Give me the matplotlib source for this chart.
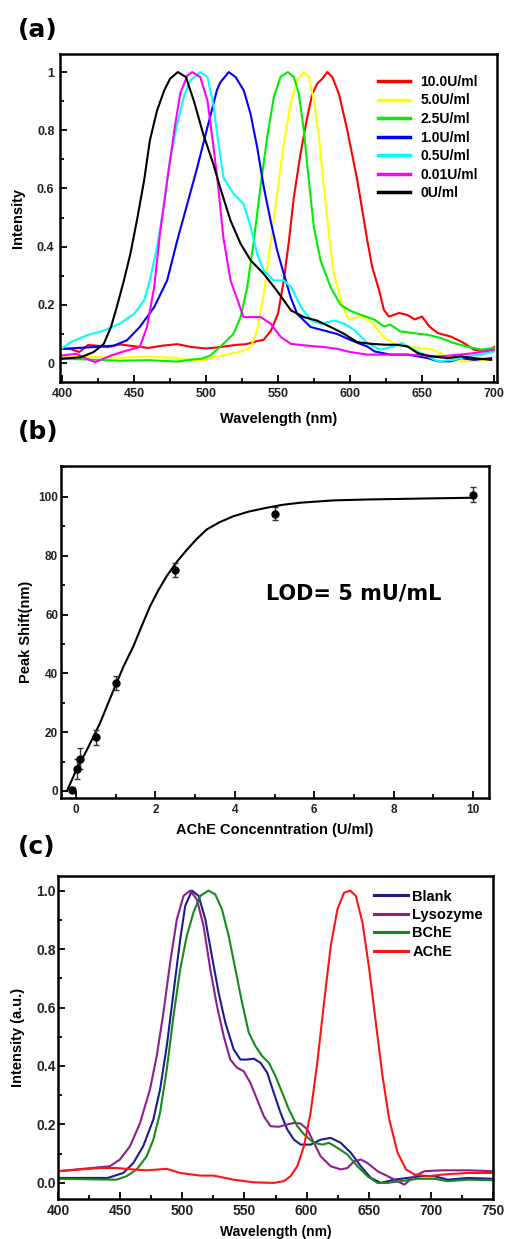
import matplotlib
matplotlib.use("Agg")
import matplotlib.pyplot as plt
from matplotlib.ticker import MultipleLocator, FixedLocator, FuncFormatter

# ---------------- panel (a) spectra ----------------
wl_10 = [400, 406, 412, 418, 424, 432, 440, 450, 460, 470, 480, 490, 500, 510, 520, 528, 535, 540, 545, 550,
         554, 557.6, 561, 565.6, 570.3, 573.8, 577.2, 580.7, 584.2, 587.7, 592.3, 598.1, 605.1, 612, 615.4,
         620.1, 623.5, 627, 634, 640, 645, 650, 655, 661, 670, 679, 686, 695, 700]
int_10 = [0.05, 0.048, 0.038, 0.062, 0.06, 0.055, 0.064, 0.058, 0.052, 0.06, 0.065, 0.055, 0.05, 0.055, 0.062,
          0.065, 0.075, 0.08, 0.11, 0.17, 0.284, 0.421, 0.57, 0.719, 0.845, 0.925, 0.96, 0.977, 1.0, 0.983,
          0.925, 0.80, 0.627, 0.421, 0.33, 0.252, 0.183, 0.16, 0.172, 0.165, 0.15, 0.16, 0.126, 0.103, 0.091,
          0.069, 0.046, 0.04, 0.055]

wl_5 = [400, 420, 440, 460, 480, 490, 497, 505, 515, 525, 531, 535.5, 540.1, 544.8, 549.4, 554, 558.7, 563.3,
        567.9, 571.4, 574.9, 578.4, 581.8, 585.3, 588.8, 593.4, 597, 599, 603, 608, 616, 623, 630, 640, 649,
        658, 667, 677, 686, 698]
int_5 = [0.02, 0.022, 0.018, 0.022, 0.018, 0.01, 0.008, 0.02, 0.03, 0.04, 0.055, 0.112, 0.238, 0.41, 0.582,
         0.754, 0.891, 0.971, 1.0, 0.983, 0.902, 0.777, 0.605, 0.444, 0.307, 0.22, 0.17, 0.15, 0.155, 0.16,
         0.137, 0.091, 0.069, 0.057, 0.052, 0.046, 0.023, 0.006, 0.006, 0.011]

wl_25 = [400, 420, 440, 460, 480, 490, 497, 503, 512, 519, 524, 528.6, 533.2, 537.8, 542.5, 547.1, 551.7,
         556.8, 561, 564.5, 567.9, 571.4, 574.9, 579.5, 586.5, 593.4, 600, 605, 612, 617, 623.5, 628, 635,
         644, 654, 663, 672, 681, 691, 700]
int_25 = [0.015, 0.012, 0.008, 0.01, 0.005, 0.012, 0.015, 0.026, 0.066, 0.1, 0.158, 0.261, 0.421, 0.605,
          0.777, 0.914, 0.983, 1.0, 0.983, 0.925, 0.80, 0.627, 0.467, 0.353, 0.261, 0.20, 0.18, 0.17, 0.158,
          0.149, 0.126, 0.132, 0.109, 0.103, 0.097, 0.086, 0.069, 0.057, 0.046, 0.052]

wl_1 = [400, 422, 436, 445, 454, 464, 473, 480, 487, 494, 501, 507.7, 510, 515.8, 520.5, 526.2, 530.9,
        535.5, 540.1, 544.8, 549.4, 554, 558.7, 563.3, 572.6, 581.8, 591, 600, 607, 612, 617, 628, 640, 654,
        661, 670, 677, 686, 698]
int_1 = [0.049, 0.055, 0.06, 0.078, 0.124, 0.192, 0.284, 0.421, 0.547, 0.674, 0.811, 0.94, 0.965, 1.0,
         0.983, 0.937, 0.857, 0.742, 0.605, 0.49, 0.387, 0.307, 0.227, 0.169, 0.124, 0.112, 0.1, 0.08, 0.066,
         0.057, 0.04, 0.029, 0.029, 0.017, 0.006, 0.006, 0.017, 0.011, 0.017]

wl_05 = [400, 406, 417, 429, 440, 450, 457, 461, 466, 471, 475, 480, 484.5, 489, 496, 501, 505, 508, 512,
         519, 526, 531, 535.5, 540, 547, 554, 559, 566, 573, 580, 589, 596, 603, 612, 621, 630, 636, 644, 654,
         661, 672, 681, 691, 700]
int_05 = [0.05, 0.072, 0.095, 0.112, 0.135, 0.169, 0.215, 0.284, 0.399, 0.547, 0.696, 0.822, 0.914, 0.971,
          1.0, 0.983, 0.89, 0.777, 0.639, 0.582, 0.547, 0.467, 0.376, 0.318, 0.284, 0.284, 0.261, 0.192,
          0.146, 0.135, 0.146, 0.135, 0.114, 0.069, 0.046, 0.057, 0.069, 0.046, 0.023, 0.006, 0.011, 0.023,
          0.029, 0.04]

wl_001 = [400, 410, 417, 423, 434, 445, 454, 459, 464, 468, 473, 478, 482, 487, 490.4, 496, 501, 505, 508,
          512, 517, 522, 526, 538, 545, 552, 559, 570, 582, 591, 600, 612, 625, 640, 663, 686, 700]
int_001 = [0.026, 0.032, 0.015, 0.003, 0.026, 0.043, 0.055, 0.124, 0.261, 0.444, 0.627, 0.80, 0.925, 0.988,
           1.0, 0.983, 0.902, 0.75, 0.627, 0.433, 0.284, 0.215, 0.158, 0.158, 0.135, 0.089, 0.066, 0.06,
           0.055, 0.049, 0.038, 0.029, 0.029, 0.029, 0.023, 0.034, 0.046]

wl_0 = [400, 413, 422, 429, 434, 438, 443, 447.5, 452, 457, 461, 466, 471, 475, 480.4, 486, 491.5, 498, 505,
        510, 517, 524, 531, 540, 549, 559, 568, 577, 586.5, 596, 605, 615, 625, 632, 640, 647, 656, 668, 677,
        686, 698]
int_0 = [0.015, 0.02, 0.038, 0.066, 0.124, 0.192, 0.284, 0.376, 0.49, 0.627, 0.765, 0.868, 0.937, 0.977, 1.0,
         0.983, 0.902, 0.788, 0.685, 0.60, 0.49, 0.41, 0.353, 0.307, 0.25, 0.181, 0.158, 0.146, 0.124, 0.1,
         0.072, 0.066, 0.063, 0.063, 0.057, 0.034, 0.023, 0.017, 0.023, 0.017, 0.011]

a_labels = ["10.0U/ml", "5.0U/ml", "2.5U/ml", "1.0U/ml", "0.5U/ml", "0.01U/ml", "0U/ml"]
a_colors = ["#ff0000", "#ffff00", "#00ee00", "#0000ff", "#00ffff", "#ff00ff", "#000000"]
a_series = [(wl_10, int_10), (wl_5, int_5), (wl_25, int_25), (wl_1, int_1),
            (wl_05, int_05), (wl_001, int_001), (wl_0, int_0)]

# ---------------- panel (b) peak shift ----------------
conc = [-0.1, 0.02, 0.1, 0.5, 1.0, 2.5, 5.0, 10.0]
shift = [0.5, 7.6, 11.0, 18.2, 36.8, 75.2, 94.3, 100.8]
shift_err = [0.8, 3.4, 3.6, 2.5, 2.3, 2.4, 2.3, 2.4]
fit_x = [-0.23, 0.0, 0.27, 0.6, 0.98, 1.2, 1.44, 1.65, 1.86, 2.07, 2.28, 2.53, 2.79, 3.04, 3.29, 3.6, 3.96,
         4.35, 4.8, 5.2, 5.64, 6.48, 7.3, 8.15, 9.0, 10.0]
fit_y = [0.0, 7.0, 13.9, 23.0, 35.5, 42.5, 49.1, 56.0, 62.7, 68.2, 73.0, 77.8, 82.0, 85.7, 88.9, 91.3, 93.4,
         95.0, 96.3, 97.3, 98.0, 98.8, 99.1, 99.3, 99.5, 99.7]

# ---------------- panel (c) selectivity ----------------
wl_blank = [400, 440, 452.5, 460.6, 468.6, 476.7, 482.1, 487.5, 492.9, 498.3, 502.3, 507.7, 513.1, 518.5,
            523.8, 529.2, 534.6, 541.3, 546.7, 552.1, 557.5, 562.9, 568.3, 573.6, 579, 584.4, 589.8, 595.2,
            603.2, 611.3, 619.4, 627.5, 635.6, 643.6, 651.7, 659.8, 670.5, 681.3, 692.1, 702.8, 713.6, 729.8,
            750]
int_blank = [0.017, 0.017, 0.034, 0.068, 0.126, 0.217, 0.32, 0.468, 0.651, 0.833, 0.947, 1.0, 0.982, 0.902,
             0.776, 0.651, 0.548, 0.457, 0.422, 0.422, 0.425, 0.411, 0.377, 0.308, 0.24, 0.183, 0.148, 0.131,
             0.131, 0.148, 0.154, 0.137, 0.103, 0.057, 0.017, 0.0, 0.011, 0.017, 0.023, 0.023, 0.011, 0.017,
             0.014]

wl_lys = [400, 441.7, 449.8, 458, 466, 474, 479.4, 484.8, 490.2, 495.6, 501, 506.3, 511.7, 517.1, 522.5,
          527.9, 533.3, 538.6, 544, 549.4, 554.8, 560.2, 565.6, 571, 577.7, 584.4, 589.8, 595.2, 600.6, 605.9,
          611.3, 619.4, 627.5, 632.9, 638.2, 643.6, 649, 657.1, 665.2, 673.2, 678.6, 686.7, 694.8, 708.2,
          729.8, 750]
int_lys = [0.04, 0.057, 0.08, 0.126, 0.205, 0.32, 0.434, 0.582, 0.753, 0.902, 0.982, 1.0, 0.97, 0.879, 0.731,
           0.605, 0.502, 0.422, 0.394, 0.382, 0.342, 0.285, 0.228, 0.194, 0.192, 0.2, 0.205, 0.203, 0.183,
           0.137, 0.091, 0.057, 0.046, 0.051, 0.074, 0.08, 0.068, 0.04, 0.023, 0.006, -0.006, 0.023, 0.04,
           0.043, 0.043, 0.04]

wl_bche = [400, 447, 455.2, 463.3, 471.3, 476.7, 482.1, 487.5, 492.9, 498.3, 503.6, 509, 514.4, 521.1, 526.5,
           531.9, 537.3, 542.7, 548.1, 553.5, 558.8, 564.2, 569.6, 575, 580.4, 585.8, 592.5, 597.9, 605.9,
           612.7, 618, 624.8, 632.9, 640.9, 648.9, 657, 665.2, 675.9, 689.4, 702.8, 713.6, 729.8, 750]
int_bche = [0.014, 0.011, 0.023, 0.046, 0.091, 0.148, 0.24, 0.388, 0.571, 0.731, 0.845, 0.925, 0.982, 1.0,
            0.987, 0.936, 0.845, 0.731, 0.616, 0.514, 0.468, 0.434, 0.411, 0.365, 0.308, 0.251, 0.194, 0.166,
            0.137, 0.131, 0.137, 0.12, 0.097, 0.057, 0.023, 0.0, 0.0, 0.006, 0.014, 0.014, 0.006, 0.011, 0.009]

wl_ache = [400, 433.7, 447.1, 460.6, 471.3, 487.5, 498.3, 514.4, 525.2, 541.3, 557.5, 573.6, 581.7, 587.1,
           592.5, 597.9, 603.2, 608.6, 614, 619.4, 624.8, 630.2, 635, 639.6, 645, 650.4, 655.7, 661.1, 666.5,
           673.2, 680, 686.7, 697.5, 710.9, 729.8, 750]
int_ache = [0.04, 0.051, 0.051, 0.046, 0.043, 0.048, 0.034, 0.025, 0.025, 0.011, 0.002, 0.0, 0.006, 0.023,
            0.057, 0.126, 0.24, 0.411, 0.616, 0.81, 0.936, 0.993, 1.0, 0.982, 0.89, 0.731, 0.548, 0.365, 0.217,
            0.103, 0.046, 0.029, 0.023, 0.029, 0.034, 0.034]

c_labels = ["Blank", "Lysozyme", "BChE", "AChE"]
c_colors = ["#1c1c8e", "#8e1e8e", "#15891a", "#ff1414"]
c_series = [(wl_blank, int_blank), (wl_lys, int_lys), (wl_bche, int_bche), (wl_ache, int_ache)]

# ---------------- figure ----------------
tick_font = "Liberation Sans"
lab_col = "#222222"

fig = plt.figure(figsize=(5.05, 12.39), dpi=100)


def style_axes(ax, tick_size, pad_x, pad_y):
    for sp in ax.spines.values():
        sp.set_linewidth(1.8)
    ax.tick_params(which="both", direction="in", width=1.3, colors="black")
    ax.tick_params(which="major", length=5)
    ax.tick_params(which="minor", length=3)
    ax.tick_params(axis="x", pad=pad_x)
    ax.tick_params(axis="y", pad=pad_y)
    for lab in ax.get_xticklabels() + ax.get_yticklabels():
        lab.set_fontfamily(tick_font)
        lab.set_fontweight("bold")
        lab.set_fontsize(tick_size)
        lab.set_color(lab_col)


# (a)
ax1 = fig.add_axes([0.1188, 0.6917, 0.8652, 0.2647])
for (x, y), lab, col in zip(a_series, a_labels, a_colors):
    ax1.plot(x, y, color=col, lw=1.5, label=lab)
ax1.set_xlim(398.6, 702)
ax1.set_ylim(-0.065, 1.062)
ax1.xaxis.set_major_locator(MultipleLocator(50))
ax1.xaxis.set_minor_locator(MultipleLocator(25))
ax1.yaxis.set_major_locator(FixedLocator([0, 0.2, 0.4, 0.6, 0.8, 1.0]))
ax1.yaxis.set_minor_locator(MultipleLocator(0.1))
ax1.yaxis.set_major_formatter(FuncFormatter(lambda v, p: "%g" % round(v, 1)))
style_axes(ax1, 9, 4, 4)
ax1.set_xlabel("Wavelength (nm)", fontfamily=tick_font, fontweight="bold", fontsize=10.5)
ax1.set_ylabel("Intensity", fontfamily=tick_font, fontweight="bold", fontsize=10.5)
ax1.xaxis.set_label_coords(0.5, -0.091)
ax1.yaxis.set_label_coords(-0.08, 0.5)
leg1 = ax1.legend(loc="upper right", bbox_to_anchor=(0.975, 0.962), frameon=False, handlelength=2.3,
                  handletextpad=0.7, labelspacing=0.33, borderaxespad=0.2,
                  prop={"family": tick_font, "weight": "bold", "size": 10})
for ln in leg1.get_lines():
    ln.set_linewidth(2.5)
fig.text(0.036, 0.976, "(a)", fontsize=18, fontweight="bold", va="center", ha="left")

# (b)
ax2 = fig.add_axes([0.1208, 0.3559, 0.8475, 0.2680])
ax2.plot(fit_x, fit_y, color="black", lw=1.5)
ax2.errorbar(conc, shift, yerr=shift_err, fmt="o", color="black", ms=5, ecolor="#333333",
             elinewidth=1.0, capsize=2.5, capthick=1.0)
ax2.set_xlim(-0.38, 10.4)
ax2.set_ylim(-2.4, 110.5)
ax2.xaxis.set_major_locator(MultipleLocator(2))
ax2.xaxis.set_minor_locator(MultipleLocator(1))
ax2.yaxis.set_major_locator(MultipleLocator(20))
ax2.yaxis.set_minor_locator(MultipleLocator(10))
style_axes(ax2, 8.5, 4, 2)
ax2.set_xlabel("AChE Concenntration (U/ml)", fontfamily=tick_font, fontweight="bold", fontsize=10.5)
ax2.set_ylabel("Peak Shift(nm)", fontfamily=tick_font, fontweight="bold", fontsize=10.5)
ax2.xaxis.set_label_coords(0.5, -0.075)
ax2.yaxis.set_label_coords(-0.065, 0.5)
ax2.text(6.98, 67.3, "LOD= 5 mU/mL", fontsize=15, fontweight="bold", ha="center", va="center")
fig.text(0.036, 0.651, "(b)", fontsize=18, fontweight="bold", va="center", ha="left")

# (c)
ax3 = fig.add_axes([0.1149, 0.0323, 0.8614, 0.2607])
for (x, y), lab, col in zip(c_series, c_labels, c_colors):
    ax3.plot(x, y, color=col, lw=1.5, label=lab)
ax3.set_xlim(400, 750)
ax3.set_ylim(-0.055, 1.05)
ax3.xaxis.set_major_locator(MultipleLocator(50))
ax3.xaxis.set_minor_locator(MultipleLocator(25))
ax3.yaxis.set_major_locator(MultipleLocator(0.2))
ax3.yaxis.set_minor_locator(MultipleLocator(0.1))
ax3.yaxis.set_major_formatter(FuncFormatter(lambda v, p: "%.1f" % v))
style_axes(ax3, 10, 3.5, 1.5)
ax3.set_xlabel("Wavelength (nm)", fontfamily=tick_font, fontweight="bold", fontsize=10)
ax3.set_ylabel("Intensity (a.u.)", fontfamily=tick_font, fontweight="bold", fontsize=10.5)
ax3.xaxis.set_label_coords(0.5, -0.082)
ax3.yaxis.set_label_coords(-0.076, 0.5)
leg3 = ax3.legend(loc="upper right", bbox_to_anchor=(0.997, 0.985), frameon=False, handlelength=2.3,
                  handletextpad=0.3, labelspacing=0.3, borderaxespad=0.2,
                  prop={"family": tick_font, "weight": "bold", "size": 10.5})
for ln in leg3.get_lines():
    ln.set_linewidth(2.2)
fig.text(0.036, 0.316, "(c)", fontsize=18, fontweight="bold", va="center", ha="left")

fig.savefig("out.png", dpi=100)
